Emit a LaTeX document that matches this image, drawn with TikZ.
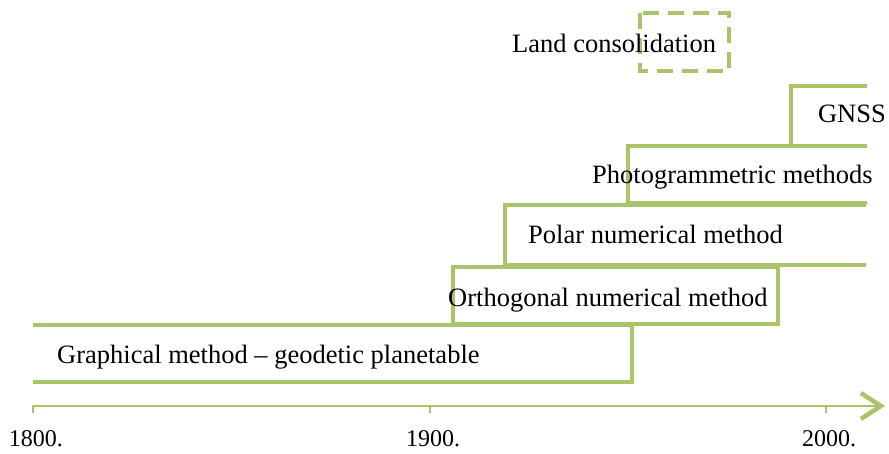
\documentclass[tikz,border=0pt]{standalone}
\usepackage{fontspec}
\setmainfont{Liberation Serif}
\usetikzlibrary{arrows.meta}
\definecolor{bargreen}{RGB}{169,196,106}

\begin{document}
\begin{tikzpicture}[x=1pt,y=-1pt,
        bar/.style={draw=bargreen,line width=4pt},
        lbl/.style={anchor=base west,inner sep=0pt,font=\fontsize{26.5}{30}\selectfont},
        yearlbl/.style={anchor=north,inner sep=0pt,font=\fontsize{24}{28}\selectfont}]
        \useasboundingbox (0,0) rectangle (889,454);
        % method bars
        \draw[bar] (33,325) -- (632,325) -- (632,382) -- (33,382);
        \draw[bar] (453,267) rectangle (778,324);
        \draw[bar] (866,205) -- (505,205) -- (505,265) -- (866,265);
        \draw[bar] (867,146) -- (628,146) -- (628,203) -- (867,203);
        \draw[bar] (867,86) -- (791,86) -- (791,146);
        \draw[bar,dash pattern=on 16pt off 9pt] (640,13) rectangle (729,71);
        % labels
        \node[lbl] (graph) at (57,363) {Graphical method -- geodetic planetable};
        \node[lbl] (orth) at (448,307) {Orthogonal numerical method};
        \node[lbl] (polar) at (528,244) {Polar numerical method};
        \node[lbl] (photo) at (592,184) {Photogrammetric methods};
        \node[lbl,anchor=base east] (gnss) at (886,123) {GNSS};
        \node[lbl] (land) at (512,53) {Land consolidation};
        % time axis
        \coordinate (axstart) at (33,406);
        \coordinate (axend) at (885,406);
        \draw[draw=bargreen,line width=1.8pt,-{Straight Barb[length=20pt,width=26pt,line width=4.5pt]}] (axstart) -- (axend);
        \foreach \yr/\px in {1800/33,1900/430,2000/826}{
            \draw[draw=bargreen,line width=1.8pt] (\px,405) -- (\px,413);
            \node[yearlbl] (y\yr) at (\px+3,430) {\yr.};
        }
    \end{tikzpicture}
\end{document}
